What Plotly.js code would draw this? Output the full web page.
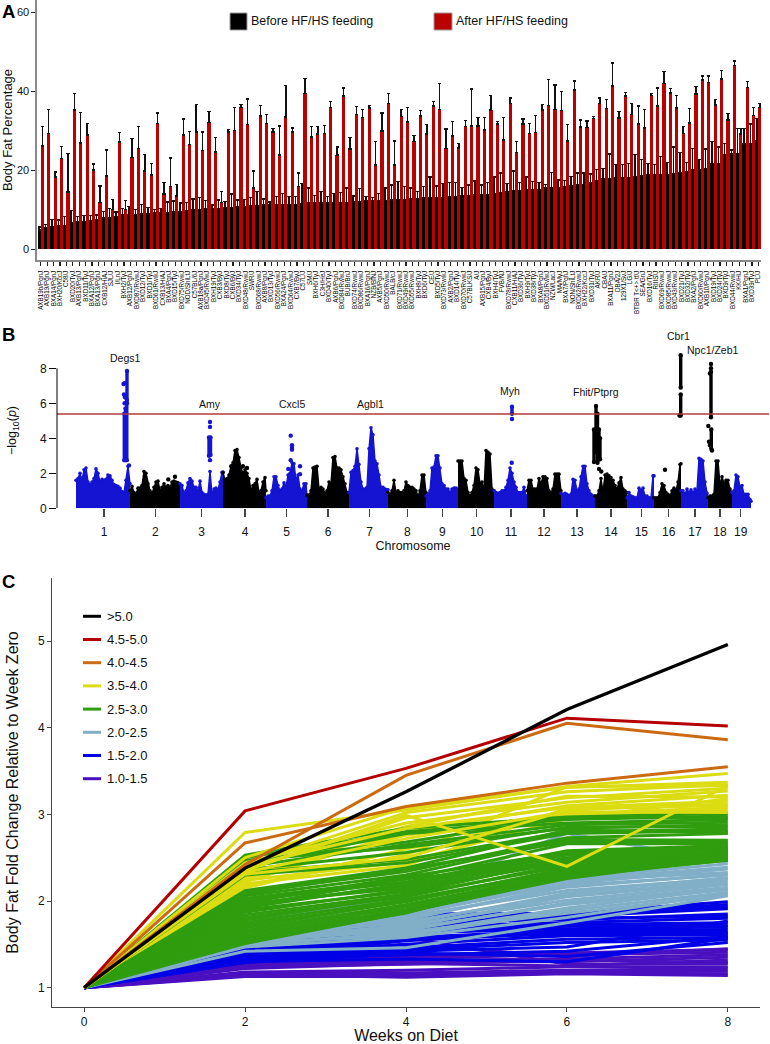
<!DOCTYPE html>
<html><head><meta charset="utf-8">
<script src="https://cdn.plot.ly/plotly-3.0.1.min.js"></script>
<style>html,body{margin:0;padding:0;background:#fff}#c{width:770px;height:1044px}</style></head>
<body><div id="c"></div>
<script>
// ---------- Panel A ----------
const strains = ["AXB19b/PgnJ","AXB19/PgnJ","BXA14/PgnJ","BXH20/KccJ","C58/J","BXD20/TyJ","AXB13/PgnJ","BXD11/TyJ","BXA12/PgnJ","BXA13/PgnJ","CXB12/HiAJ","SJL/J","I/LnJ","BXH2/TyJ","AXB12/PgnJ","BXD87/RwwJ","BXD12/TyJ","BXD1/TyJ","BXD61/RwwJ","CXB13/HiAJ","BXA4/PgnJ","BXD15/TyJ","BXD75/RwwJ","NOD/ShiLtJ","C57BL/6J","AXB18a/PgnJ","BXD45/RwwJ","BXH19/TyJ","CXB3/ByJ","BXD8/TyJ","CXB6/ByJ","BXD34/TyJ","BXD48/RwwJ","SWR/J","BXD68/RwwJ","AXB8/PgnJ","BXD13/TyJ","BXD56/RwwJ","BXA24/PgnJ","BXD64/RwwJ","CXB7/ByJ","C57L/J","SM/J","BXH6/TyJ","C3H/HeJ","BXD40/TyJ","AXB6/PgnJ","BXD84/RwwJ","BUB/BnJ","BXD74/RwwJ","BXD86/RwwJ","BXA16/PgnJ","NZB/BlNJ","AXB5/PgnJ","BXD50/RwwJ","BALB/cJ","BXD71/RwwJ","BXD49/RwwJ","BXD55/RwwJ","BXH8/TyJ","BXD6/TyJ","CE/J","BXD5/TyJ","BXD73/RwwJ","AXB2/PgnJ","BXD14/TyJ","BXD70/RwwJ","C57BLKS/J","A/J","AXB15/PgnJ","CXB4/ByJ","BXH4/TyJ","FVB/NJ","BXD78/RwwJ","CXB11/HiAJ","BXD36/TyJ","BXH9/TyJ","BXD38/TyJ","BXA8/PgnJ","BXD51/RwwJ","NZW/LacJ","MA/MyJ","BXA7/PgnJ","NON/ShiLtJ","BXD62/RwwJ","BXH22/KccJ","BXD31/TyJ","AKR/J","CBA/J","BXA11/PgnJ","DBA/2J","129X1/SvJ","LG/J","BTBR T<+> tf/J","SEA/GnJ","BXD16/TyJ","RIIIS/J","BXD69/RwwJ","BXD85/RwwJ","BXD43/RwwJ","BXD21/TyJ","BXD32/TyJ","BXA2/PgnJ","BXD60/RwwJ","AXB10/PgnJ","BXD19/TyJ","BXD24/TyJ","BXD9/TyJ","BXD44/RwwJ","KK/HiJ","BXA1/PgnJ","BXD39/TyJ","PL/J"];
const beforeMean = [4.9,5.6,5.7,5.9,6.0,6.8,7.0,7.1,7.3,7.4,7.9,7.9,8.2,8.7,8.7,8.9,9.0,9.0,9.2,9.3,9.4,9.5,9.5,9.7,10.1,10.1,10.2,10.4,10.4,10.6,10.6,10.7,10.9,11.0,11.0,11.2,11.2,11.2,11.2,11.3,11.4,11.5,11.7,11.7,11.7,11.7,11.8,11.8,11.9,12.0,12.0,12.2,12.2,12.3,12.4,12.5,12.7,12.7,12.8,12.8,13.0,13.2,13.2,13.2,13.3,13.4,13.6,13.6,13.8,13.8,13.9,14.2,14.4,14.5,14.9,14.9,15.0,15.0,15.0,15.5,15.5,15.5,15.9,16.1,16.3,16.5,16.8,17.5,17.8,18.0,18.1,18.2,18.2,18.3,18.6,18.8,18.8,18.9,18.9,19.2,19.4,19.6,20.1,20.1,20.4,21.7,21.8,23.9,24.2,24.3,26.7,26.7,27.5];
const beforeUpper = [5.7,6.3,7.6,7.4,8.3,9.8,8.3,8.6,8.5,8.7,9.6,10.4,9.5,10.3,10.8,10.1,11.3,10.6,10.1,10.4,12.0,12.2,11.7,11.8,12.8,13.2,12.3,11.2,12.5,12.1,14.0,12.5,12.7,13.2,14.6,12.8,12.0,13.4,14.2,13.4,13.4,16.7,15.5,13.6,14.6,13.4,14.2,14.4,15.5,13.5,15.4,13.4,13.2,14.2,15.5,16.3,17.2,15.9,15.5,14.6,15.9,18.3,16.1,16.7,16.9,16.9,15.7,16.3,17.3,16.3,16.9,18.3,19.3,16.7,19.9,16.9,18.3,17.2,16.9,16.5,19.5,17.6,17.5,18.4,19.3,19.3,19.1,20.3,20.5,24.2,21.5,21.5,21.8,24.1,22.8,21.8,21.5,23.5,22.0,25.9,24.5,22.0,25.5,22.8,25.4,27.3,25.9,26.9,25.2,30.7,30.7,31.8,33.2];
const afterMean = [26.2,29.4,18.3,23.0,14.5,35.3,27.0,29.0,20.1,11.8,18.6,10.1,27.2,10.1,23.2,25.6,19.9,18.8,31.9,14.0,15.9,13.5,29.0,26.6,29.7,25.0,32.1,24.7,11.8,29.7,30.1,36.0,31.6,15.5,33.8,31.9,29.7,23.9,33.5,29.7,15.9,39.5,28.5,29.2,29.4,35.9,23.9,38.9,25.4,34.1,33.4,35.8,21.4,30.0,36.9,21.4,33.6,32.3,27.4,33.8,29.2,36.3,35.5,25.6,28.7,25.7,31.2,31.3,31.3,30.2,35.3,31.8,27.7,37.0,24.6,31.8,29.4,29.6,35.3,36.4,35.5,35.2,27.5,40.4,31.0,30.9,33.1,37.0,35.7,41.4,33.3,38.9,34.2,31.8,30.8,39.0,36.3,42.1,39.6,35.8,29.4,32.0,39.4,42.9,42.3,36.6,43.2,32.8,46.6,29.2,41.0,33.9,35.9];
const afterUpper = [31.1,35.5,19.6,26.0,24.3,39.5,34.7,31.9,21.6,16.1,25.2,12.7,29.6,12.3,28.1,31.1,24.1,21.8,34.6,17.0,23.1,16.5,33.0,29.8,36.7,29.7,34.9,28.4,14.6,30.4,35.9,36.7,38.1,19.9,36.5,34.1,30.6,31.3,41.5,30.8,19.3,43.3,31.1,31.1,31.4,37.4,25.9,40.9,28.4,36.2,35.5,36.5,27.3,34.6,39.5,27.5,35.5,35.9,28.8,35.2,31.7,37.4,42.1,30.5,32.4,26.8,32.6,40.6,33.4,33.4,39.0,32.4,33.4,38.4,27.3,33.0,31.9,33.9,36.7,43.1,41.7,40.0,31.6,42.7,32.8,32.5,33.6,38.4,38.0,47.2,34.9,39.8,36.9,36.3,35.5,39.5,40.9,45.1,40.7,39.0,31.1,35.7,41.2,43.9,43.9,38.0,45.3,34.5,47.7,30.7,42.6,35.9,37.0];

// ---------- Panel B (genome position on a common scale, -log10 p tops) ----------
const chromLabels = ["1","2","3","4","5","6","7","8","9","10","11","12","13","14","15","16","17","18","19"];
const chromTicks = [47,98.3,144.7,188,229.7,271,312.7,350.3,385.3,419.7,454,487,520,554,584.3,611.7,638,663,683.7];
const chr1Pos=[19,21,23,25,27,29,31,33,35,37,39,41,43,45,47,49,51,53,55,57,59,61,63,65,67,69,71,73];
const chr1Top=[1.6,1.7,2.0,1.6,2.2,2.3,1.5,1.35,1.5,1.7,2.25,2.0,1.5,1.65,1.6,1.65,1.9,1.85,1.6,1.35,1.3,1.25,1.15,0.95,0.9,1.6,2.4,1.4];
const chr2Pos=[73,75,77,79,81,83,85,87,89,91,93,95,97,99,101,103,105,107,109,111,113,115,117,119,121,123];
const chr2Top=[1.0,1.25,0.9,0.8,1.15,1.15,1.3,2.1,2.0,1.4,1.0,0.85,1.2,1.5,1.55,1.0,1.2,1.4,1.2,1.3,1.2,1.5,1.55,1.5,1.45,1.3];
const chr3Pos=[123,125,127,129,131,133,135,137,139,141,143,145,147,149,151,153,155,157,159,161,163,165,166];
const chr3Top=[1.4,1.3,0.85,1.0,1.45,1.7,1.55,1.2,1.2,1.0,1.55,0.9,0.8,0.75,0.8,2.1,0.8,1.1,1.15,1.05,1.5,2.05,2.05];
const chr4Pos=[166,168,170,172,174,176,178,180,182,184,186,188,190,192,194,196,198,200,202,204,206,208,209];
const chr4Top=[2.05,1.6,1.7,1.9,2.4,2.6,3.3,3.35,2.9,2.3,2.0,2.2,2.0,1.7,1.0,1.3,1.4,1.65,0.9,1.0,1.5,1.75,1.0];
const chr5Pos=[209,211,213,215,217,219,221,223,225,227,229,231,233,235,237,239,241,243,245,247,249,250];
const chr5Top=[0.6,0.7,0.7,1.0,1.8,1.8,1.3,1.0,1.1,1.45,1.2,1.9,2.0,2.6,2.55,1.6,1.9,1.1,1.0,1.4,1.4,0.7];
const chr6Pos=[250,252,254,256,258,260,262,264,266,268,270,272,274,276,278,280,282,284,286,288,290,292];
const chr6Top=[0.75,0.75,1.0,2.3,2.35,2.4,1.1,1.2,1.1,0.85,1.0,1.5,1.4,2.9,2.95,2.3,2.3,2.2,1.8,1.4,0.9,0.9];
const chr7Pos=[292,294,296,298,300,302,304,306,308,310,312,314,316,318,320,322,324,326,328,330,331];
const chr7Top=[0.9,2.05,2.15,2.4,3.4,2.5,1.5,1.1,1.1,1.2,3.4,4.6,4.2,2.7,2.55,1.9,1.2,1.2,1.1,1.05,1.05];
const chr8Pos=[331,333,335,337,339,341,343,345,347,349,351,353,355,357,359,361,363,365,367,369];
const chr8Top=[0.9,0.8,1.0,1.6,0.9,1.0,0.9,0.9,1.0,1.5,1.3,1.2,1.2,1.1,1.0,0.7,1.0,1.9,1.9,0.9];
const chr9Pos=[369,371,373,375,377,379,381,383,385,387,389,391,393,395,397,399,401];
const chr9Top=[0.7,0.8,1.0,2.3,2.35,3.0,3.0,2.3,1.4,1.3,1.1,1.1,0.9,1.1,1.15,1.15,1.1];
const chr10Pos=[401,403,405,407,409,411,413,415,417,419,421,423,425,427,429,431,433,435,437];
const chr10Top=[2.7,2.7,2.7,1.7,1.6,0.9,0.7,0.9,1.3,2.3,2.2,1.4,1.5,1.0,3.3,3.2,3.1,1.1,1.0];
const chr11Pos=[437,439,441,443,445,447,449,451,453,455,457,459,461,463,465,467,469,470];
const chr11Top=[1.0,0.9,0.85,0.9,1.0,1.0,1.2,1.6,2.3,2.0,1.5,1.2,0.9,0.9,0.9,1.2,0.7,0.7];
const chr12Pos=[470,472,474,476,478,480,482,484,486,488,490,492,494,496,498,500,502,504];
const chr12Top=[1.0,1.6,1.6,1.1,1.1,1.1,1.7,1.4,1.8,1.8,1.7,1.0,0.9,1.1,1.95,1.95,1.95,1.0];
const chr13Pos=[504,506,508,510,512,514,516,518,520,522,524,526,528,530,532,534,536,538];
const chr13Top=[0.85,0.8,0.85,0.8,0.7,0.8,1.65,1.6,1.0,1.1,1.8,2.4,2.4,1.4,1.0,0.8,0.7,0.7];
const chr14Pos=[538,540,542,544,546,548,550,552,554,556,558,560,562,564,566,568,570];
const chr14Top=[0.7,0.7,1.0,1.7,0.9,1.9,1.95,1.85,1.75,1.6,1.3,1.1,1.45,1.75,1.1,1.0,0.9];
const chr15Pos=[570,572,574,576,578,580,582,584,586,588,590,592,594,596,597];
const chr15Top=[0.6,0.9,0.7,0.65,0.6,0.6,1.15,1.0,1.15,0.7,0.7,0.6,0.6,1.85,1.85];
const chr16Pos=[597,599,601,603,605,607,609,611,613,615,617,619,621,623,624];
const chr16Top=[0.6,0.6,0.6,0.9,1.4,1.3,0.9,0.8,0.7,1.0,1.15,1.0,1.5,2.5,2.55];
const chr17Pos=[624,626,628,630,632,634,636,638,640,642,644,646,648,650,651];
const chr17Top=[1.0,1.0,0.8,1.1,0.9,1.05,0.9,1.1,1.0,2.85,2.8,2.7,1.5,0.85,0.6];
const chr18Pos=[651,653,655,657,659,661,663,665,667,669,671,673,675];
const chr18Top=[0.6,0.7,0.7,0.8,2.7,2.7,1.3,1.8,1.4,1.6,1.6,1.1,0.9];
const chr19Pos=[675,677,679,681,683,685,687,689,691,693,694];
const chr19Top=[0.9,1.0,1.9,1.8,1.2,1.3,0.8,0.8,0.8,0.5,0.4];
// peak columns and isolated points (null separates runs)
const peakBlueX=[68.5,68.5,null,67.3,67.3,null,69.8,69.8,null,70,70,null,66.5,null,67.5,null,67,null,68,null,67.6,null,72,null, 152,152,null,153.5,153.5,null,153,null,153,null,153,null, 233.7,null,235,null,235,null,235,null,233.7,null,231.3,null,243,null,243,null, 455,455,null,455,null,454.7,null];
const peakBlueY=[2.75,5.7,null,2.75,5.4,null,2.75,6.2,null,6.0,7.85,null,7.1,null,7.15,null,6.5,null,6.35,null,6.0,null,2.45,null, 3.0,4.05,null,3.05,4.05,null,2.75,null,4.65,null,4.93,null, 4.15,null,3.6,null,3.45,null,3.35,null,2.75,null,2.25,null,2.4,null,1.95,null, 5.4,5.8,null,5.1,null,2.6,null];
const peakBlackX=[111.3,null,118,null,174.5,null,186,null,190,null, 539,539,null,540.5,540.5,null,537,537,null,542,542,null,543,543,null,542,null,544.3,null,608,null, 623.7,623.7,null,623.7,623.7,null,622.5,null, 654,654,null,654.3,654.3,null,654,null,654,null,653,null,651.3,null,652,null,653,null,655,null];
const peakBlackY=[1.65,null,1.8,null,2.4,null,2.4,null,2.3,null, 3.2,5.85,null,2.6,5.4,null,2.65,4.5,null,2.8,4.5,null,2.8,4.0,null,2.25,null,2.1,null,2.2,null, 5.3,6.5,null,6.9,8.75,null,5.3,null, 5.2,7.8,null,3.4,4.5,null,8.25,null,8.0,null,7.7,null,4.7,null,3.8,null,3.6,null,3.3,null];
const sigThreshold = 5.39;
const geneNames=["Degs1","Amy","Cxcl5","Agbl1","Myh","Fhit/Ptprg","Cbr1","Npc1/Zeb1"];
const genePos=[68,153,234.5,313,453,539,621.7,656];
const geneLabelY=[8.6,5.96,5.96,5.96,6.7,6.65,9.83,9.05];

// ---------- Panel C (fold change at weeks 2,4,6,8; all start at 1) ----------
const weeks=[0,2,4,6,8];
const over50=[[1,2.38,3.26,4.21,4.96]];
const from45=[[1,3.04,3.53,4.11,4.02]];
const from40=[[1,2.67,3.09,3.36,3.55],[1,2.42,3.45,4.05,3.86]];
const from35=[[1,2.79,3.05,3.32,3.47],[1,2.50,3.08,3.31,3.37],[1,2.42,3.02,3.26,3.34],[1,2.36,2.96,3.19,3.30],[1,2.44,2.90,3.14,3.27],[1,2.35,2.99,2.40,3.33],[1,2.40,2.84,3.08,3.15],[1,2.33,2.72,3.03,3.02],[1,2.31,2.50,3.05,3.12]];
const from35Under=[[1,2.28,2.86,3.21,3.20],[1,2.18,2.53,3.32,3.33],[1,2.20,2.41,3.07,3.10],[1,2.26,2.76,3.00,3.08],[1,2.15,2.60,2.98,3.05],[1,2.22,2.80,3.10,3.22],[1,2.24,2.45,2.95,3.18]];
const from25=[[1,2.53,2.84,2.97,3.01],[1,2.50,2.80,2.94,2.98],[1,2.46,2.68,2.96,2.96],[1,2.43,2.78,2.90,2.94],[1,2.40,2.65,2.88,2.91],[1,2.47,2.62,2.84,2.88],[1,2.36,2.56,2.85,2.86],[1,2.33,2.48,2.80,2.83],[1,2.30,2.44,2.78,2.81],[1,2.12,2.38,2.82,2.79],[1,2.10,2.34,2.73,2.78],[1,2.06,2.30,2.71,2.70],[1,2.08,2.37,2.68,2.68],[1,2.03,2.25,2.66,2.66],[1,2.01,2.22,2.58,2.64],[1,1.98,2.28,2.56,2.62],[1,1.95,2.18,2.53,2.60],[1,1.97,2.15,2.50,2.59],[1,1.92,2.20,2.55,2.58],[1,1.90,2.11,2.47,2.56],[1,1.87,2.13,2.45,2.54],[1,1.84,2.08,2.49,2.55],[1,1.81,2.05,2.43,2.53],[1,1.78,2.07,2.40,2.52],[1,1.75,2.02,2.36,2.51],[1,1.72,1.99,2.38,2.50],[1,1.69,2.00,2.34,2.49],[1,1.66,1.96,2.32,2.48],[1,1.63,1.93,2.30,2.47],[1,1.60,1.90,2.28,2.47],[1,1.57,1.88,2.26,2.50],[1,1.54,1.86,2.35,2.52],[1,1.51,1.87,2.28,2.49],[1,1.94,2.26,2.42,2.61]];
const from20=[[1,1.78,2.05,2.78,2.45],[1,1.74,1.90,2.26,2.43],[1,1.70,1.94,2.24,2.39],[1,1.72,1.84,2.20,2.37],[1,1.68,1.86,2.23,2.33],[1,1.65,1.80,2.16,2.31],[1,1.63,1.78,2.18,2.30],[1,1.60,1.82,2.12,2.26],[1,1.62,1.74,2.09,2.27],[1,1.57,1.76,2.06,2.24],[1,1.59,1.70,2.05,2.21],[1,1.55,1.72,2.01,2.19],[1,1.53,1.66,1.98,2.16],[1,1.56,1.68,1.96,2.13],[1,1.50,1.62,1.92,2.14],[1,1.52,1.60,1.89,2.10],[1,1.48,1.64,1.86,2.07],[1,1.42,1.46,1.75,2.06],[1,1.47,1.58,1.81,2.09]];
const from15=[[1,1.50,1.85,1.86,1.99],[1,1.48,1.82,1.84,1.96],[1,1.46,1.79,1.85,1.93],[1,1.49,1.76,1.82,1.91],[1,1.44,1.80,1.78,1.85],[1,1.47,1.72,1.80,1.82],[1,1.42,1.70,1.75,1.80],[1,1.45,1.68,1.73,1.75],[1,1.40,1.65,1.71,1.72],[1,1.37,1.63,1.68,1.70],[1,1.39,1.58,1.66,1.67],[1,1.35,1.54,1.64,1.64],[1,1.34,1.50,1.60,1.61],[1,1.36,1.46,1.56,1.58],[1,1.33,1.44,1.52,1.55],[1,1.30,1.33,1.30,1.57],[1,1.29,1.40,1.36,1.52],[1,1.31,1.38,1.42,1.59],[1,1.32,1.42,1.47,1.77],[1,1.38,1.56,1.62,1.63]];
const from10=[[1,1.42,1.58,1.27,1.28],[1,1.38,1.50,1.36,1.45],[1,1.30,1.36,1.40,1.44],[1,1.28,1.34,1.38,1.41],[1,1.25,1.32,1.33,1.38],[1,1.27,1.30,1.30,1.35],[1,1.22,1.28,1.25,1.32],[1,1.24,1.27,1.32,1.29],[1,1.18,1.20,1.24,1.24],[1,1.16,1.17,1.20,1.22],[1,1.14,1.15,1.19,1.19],[1,1.13,1.13,1.17,1.16],[1,1.15,1.12,1.16,1.14]];
const foldLabels=[">5.0","4.5-5.0","4.0-4.5","3.5-4.0","2.5-3.0","2.0-2.5","1.5-2.0","1.0-1.5"];

// ---------- styling ----------
const W=770,H=1044;
const fx=p=>p/W, fy=p=>1-p/H;
const RED="#bb0000", BLUE="#1414d2";
const foldColors=["#000000","#b50000","#cc6a12","#dcdc12","#2f9d0e","#82afc8","#0000e6","#4a10c0"];
const font="'Liberation Sans',Arial,Helvetica,sans-serif";

const traces=[];
const idx=strains.map((_,i)=>i);
traces.push({type:"bar",name:"Before HF/HS feeding",x:idx,y:beforeMean,marker:{color:"#000"},showlegend:false,hoverinfo:"skip",
  error_y:{type:"data",symmetric:false,array:beforeUpper.map((v,i)=>+(v-beforeMean[i]).toFixed(2)),arrayminus:idx.map(()=>0),color:"#111",thickness:1.4,width:1.6},xaxis:"x",yaxis:"y"});
traces.push({type:"bar",name:"After HF/HS feeding",x:idx,y:afterMean,marker:{color:RED},showlegend:false,hoverinfo:"skip",
  error_y:{type:"data",symmetric:false,array:afterUpper.map((v,i)=>+(v-afterMean[i]).toFixed(2)),arrayminus:idx.map(()=>0),color:"#111",thickness:1.4,width:1.6},xaxis:"x",yaxis:"y"});

const chroms=[[chr1Pos,chr1Top],[chr2Pos,chr2Top],[chr3Pos,chr3Top],[chr4Pos,chr4Top],[chr5Pos,chr5Top],[chr6Pos,chr6Top],[chr7Pos,chr7Top],[chr8Pos,chr8Top],[chr9Pos,chr9Top],[chr10Pos,chr10Top],[chr11Pos,chr11Top],[chr12Pos,chr12Top],[chr13Pos,chr13Top],[chr14Pos,chr14Top],[chr15Pos,chr15Top],[chr16Pos,chr16Top],[chr17Pos,chr17Top],[chr18Pos,chr18Top],[chr19Pos,chr19Top]];
chroms.forEach((c,i)=>{
  const col=i%2===0?BLUE:"#000";
  traces.push({type:"scatter",mode:"lines+markers",x:c[0],y:c[1],fill:"tozeroy",fillcolor:col,line:{color:col,width:1.5},
    marker:{color:col,size:3.6},cliponaxis:false,showlegend:false,hoverinfo:"skip",name:"Chr "+chromLabels[i],xaxis:"x2",yaxis:"y2"});
});
traces.push({type:"scatter",mode:"lines+markers",x:peakBlueX,y:peakBlueY,connectgaps:false,line:{color:BLUE,width:3.4},marker:{color:BLUE,size:4.4},cliponaxis:false,showlegend:false,hoverinfo:"skip",name:"Peaks (odd)",xaxis:"x2",yaxis:"y2"});
traces.push({type:"scatter",mode:"lines+markers",x:peakBlackX,y:peakBlackY,connectgaps:false,line:{color:"#000",width:3.4},marker:{color:"#000",size:4.4},cliponaxis:false,showlegend:false,hoverinfo:"skip",name:"Peaks (even)",xaxis:"x2",yaxis:"y2"});

// draw order, back to front: [lines, label index]
const foldLayers=[[from10,7],[from15,6],[from20,5],[from35Under,3],[from25,4],[from35,3],[from40,2],[from45,1],[over50,0]];
foldLayers.forEach(layer=>{
  layer[0].forEach(vals=>{
    const g=layer[1];
    traces.push({type:"scatter",mode:"lines",x:weeks,y:vals,line:{color:foldColors[g],width:g===0?3.3:3},
      name:foldLabels[g],showlegend:false,hoverinfo:"skip",xaxis:"x3",yaxis:"y3"});
  });
});

const shapes=[], annotations=[];
shapes.push({type:"line",xref:"x2 domain",x0:0,x1:1,yref:"y2",y0:sigThreshold,y1:sigThreshold,line:{color:"#b23a3a",width:1.3}});
shapes.push({type:"line",xref:"x2 domain",x0:0,x1:0,yref:"y2",y0:0,y1:8,line:{color:"#000",width:1}});
[[230,247,"#000",249,"Before HF/HS feeding"],[434,452,RED,454,"After HF/HS feeding"]].forEach(l=>{
  shapes.push({type:"rect",xref:"paper",yref:"paper",x0:fx(l[0]),x1:fx(l[1]),y0:fy(13),y1:fy(30),fillcolor:l[2],line:{color:"#999",width:1}});
  annotations.push({xref:"paper",yref:"paper",x:fx(l[3]),y:fy(21),xanchor:"left",yanchor:"middle",showarrow:false,text:l[4],font:{size:12.5,color:"#111"}});
});
foldLabels.forEach((lab,i)=>{
  const yp=616.3+i*23.2;
  shapes.push({type:"line",xref:"paper",yref:"paper",x0:fx(83),x1:fx(101),y0:fy(yp),y1:fy(yp),line:{color:foldColors[i],width:3}});
  annotations.push({xref:"paper",yref:"paper",x:fx(105.5),y:fy(yp),xanchor:"left",yanchor:"middle",showarrow:false,text:lab,font:{size:13,color:"#111"}});
});
[["A",11.5],["B",334.5],["C",581]].forEach(l=>annotations.push({xref:"paper",yref:"paper",x:fx(0),y:fy(l[1]),xanchor:"left",yanchor:"middle",showarrow:false,text:"<b>"+l[0]+"</b>",font:{size:18.5,color:"#000"}}));
geneNames.forEach((g,i)=>annotations.push({xref:"x2",yref:"y2",x:genePos[i],y:geneLabelY[i],xanchor:"center",yanchor:"middle",showarrow:false,text:g,font:{size:10.5,color:"#111"}}));
annotations.push({xref:"paper",yref:"paper",x:fx(13),y:fy(430),xanchor:"center",yanchor:"middle",textangle:-90,showarrow:false,text:"−log<sub>10</sub>(<i>p</i>)",font:{size:12.5,color:"#111"}});

const layout={
  width:W,height:H,margin:{l:0,r:0,t:0,b:0},paper_bgcolor:"#fff",plot_bgcolor:"rgba(0,0,0,0)",showlegend:false,
  font:{family:font,color:"#111"},barmode:"group",bargap:0,bargroupgap:0,shapes,annotations,
  xaxis:{domain:[fx(37),fx(761)],range:[-0.58,112.4],anchor:"y",tickmode:"array",tickvals:idx,ticktext:strains.map(s=>s.replace("<","&lt;").replace(">","&gt;")),tickangle:-90,
    tickfont:{size:6.3,color:"#000"},ticks:"outside",ticklen:4.5,tickwidth:1.2,tickcolor:"#222",showline:true,linecolor:"#8a8a8a",linewidth:1.6,showgrid:false,zeroline:false,ticklabelstandoff:2},
  yaxis:{domain:[fy(260),fy(0)],range:[-2.71,63.2],anchor:"x",tickvals:[0,20,40,60],ticktext:["0","20","40","60"],tickfont:{size:11,color:"#111"},ticks:"outside",ticklen:4,tickwidth:1.2,tickcolor:"#222",
    showline:true,linecolor:"#8a8a8a",linewidth:1.6,showgrid:false,zeroline:false,title:{text:"Body Fat Percentage",font:{size:13,color:"#111"},standoff:7}},
  xaxis2:{domain:[fx(57),fx(769)],range:[0,712],anchor:"y2",tickmode:"array",tickvals:chromTicks,ticktext:chromLabels,tickfont:{size:12,color:"#111"},ticks:"outside",ticklen:8,tickwidth:1.2,tickcolor:"#444",
    showline:false,showgrid:false,zeroline:false,ticklabelstandoff:4,title:{text:"Chromosome",font:{size:12.5,color:"#111"},standoff:3}},
  yaxis2:{domain:[fy(508.3),fy(333.3)],range:[0,10],anchor:"x2",tickvals:[0,2,4,6,8],ticktext:["0","2","4","6","8"],tickfont:{size:12,color:"#111"},ticks:"outside",ticklen:7,tickwidth:1,tickcolor:"#000",
    showline:false,showgrid:false,zeroline:false},
  xaxis3:{domain:[fx(52),fx(760)],range:[-0.40,8.4],anchor:"y3",tickvals:[0,2,4,6,8],ticktext:["0","2","4","6","8"],tickfont:{size:12,color:"#111"},ticks:"outside",ticklen:4,tickwidth:1,tickcolor:"#444",
    showline:true,linecolor:"#444",linewidth:1,showgrid:false,zeroline:false,title:{text:"Weeks on Diet",font:{size:16,color:"#111"},standoff:7}},
  yaxis3:{domain:[fy(1007),fy(578)],range:[0.777,5.727],anchor:"x3",tickvals:[1,2,3,4,5],ticktext:["1","2","3","4","5"],tickfont:{size:12,color:"#111"},ticks:"outside",ticklen:4,tickwidth:1,tickcolor:"#444",
    showline:true,linecolor:"#444",linewidth:1,showgrid:false,zeroline:false,title:{text:"Body Fat Fold Change Relative to Week Zero",font:{size:16,color:"#111"},standoff:15}}
};
Plotly.newPlot("c",traces,layout,{staticPlot:true,displayModeBar:false});
</script></body></html>
